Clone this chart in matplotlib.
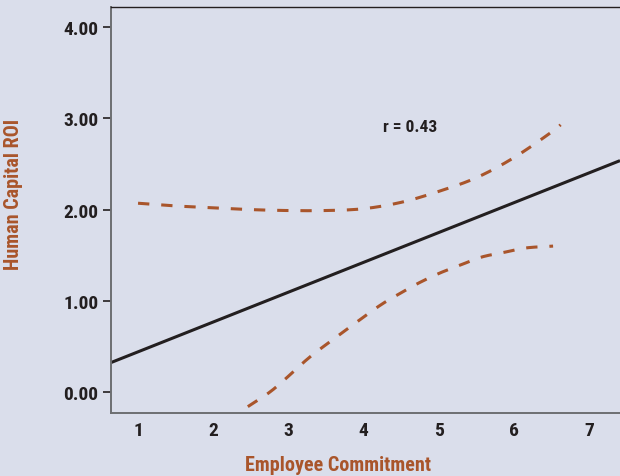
"""Human capital ROI vs employee commitment, with fit line and confidence band."""

import matplotlib

matplotlib.use("Agg")

import matplotlib.pyplot as plt
import numpy as np

# regression line: roi = intercept + slope * commitment
fit_intercept = 0.114
fit_slope = 0.327
r_value = 0.43

# upper and lower confidence bounds along the commitment scale
upper_x = [1.0, 1.5, 2.0, 2.5, 3.0, 3.5, 4.0, 4.5, 5.0, 5.5, 6.0, 6.5, 6.62]
upper_y = [2.07, 2.04, 2.02, 2.00, 1.99, 1.99, 2.01, 2.08, 2.20, 2.35, 2.57, 2.85, 2.93]
lower_x = [2.46, 2.8, 3.25, 3.5, 3.78, 4.2, 4.46, 4.72, 5.0, 5.28, 5.57, 5.86, 6.16, 6.52]
lower_y = [-0.16, 0.03, 0.36, 0.52, 0.69, 0.94, 1.07, 1.19, 1.30, 1.39, 1.48, 1.53, 1.58, 1.60]

x_ticks = [1, 2, 3, 4, 5, 6, 7]
y_ticks = [0.0, 1.0, 2.0, 3.0, 4.0]

BG = "#dadeeb"
RUST = "#a9552b"
INK = "#231f20"
SPINE = "#6d6e71"


def smooth(xs, ys, steps=12):
    """Catmull-Rom curve through the given points, for drawing only."""
    p = np.column_stack([xs, ys]).astype(float)
    p = np.vstack([2 * p[0] - p[1], p, 2 * p[-1] - p[-2]])
    t = np.linspace(0, 1, steps, endpoint=False)[:, None]
    out = []
    for i in range(1, len(p) - 2):
        p0, p1, p2, p3 = p[i - 1], p[i], p[i + 1], p[i + 2]
        out.append(0.5 * (2 * p1 + (-p0 + p2) * t + (2 * p0 - 5 * p1 + 4 * p2 - p3) * t ** 2
                          + (-p0 + 3 * p1 - 3 * p2 + p3) * t ** 3))
    out.append(p[-2][None, :])
    seg = np.vstack(out)
    return seg[:, 0], seg[:, 1]


plt.rcParams["font.family"] = ["Roboto Condensed", "DejaVu Sans"]
plt.rcParams["font.weight"] = "bold"

fig = plt.figure(figsize=(6.2, 4.77), dpi=100, facecolor=BG)
ax = fig.add_axes([0.179, 0.132, 0.821, 0.851], facecolor=BG)

xs = np.linspace(0.64, 7.41, 50)
ax.plot(xs, fit_intercept + fit_slope * xs, color=INK, lw=2.2, solid_capstyle="butt")

dash = dict(color=RUST, lw=2.2, dashes=(3.7, 3.9), dash_capstyle="butt")
ax.plot(*smooth(upper_x, upper_y), **dash)
ax.plot(*smooth(lower_x, lower_y), **dash)

ax.text(4.62, 2.91, f"r = {r_value:.2f}", fontsize=12.5, fontweight="bold",
        color=INK, ha="center", va="center")

ax.set_xlim(0.64, 7.41)
ax.set_ylim(-0.23, 4.22)
ax.set_xticks(x_ticks)
ax.set_yticks(y_ticks)
ax.set_yticklabels([f"{v:.2f}" for v in y_ticks])
ax.tick_params(axis="x", length=0, pad=6, labelsize=14, labelcolor=INK)
ax.tick_params(axis="y", length=6, width=1.2, color=INK, pad=3, labelsize=14, labelcolor=INK)

for side in ("left", "bottom"):
    ax.spines[side].set_color(SPINE)
    ax.spines[side].set_linewidth(1.4)
ax.spines["top"].set_color(INK)
ax.spines["top"].set_linewidth(1.0)
ax.spines["right"].set_visible(False)

ax.set_xlabel("Employee Commitment", fontsize=14.5, fontweight="bold", color=RUST)
ax.set_ylabel("Human Capital ROI", fontsize=14.5, fontweight="bold", color=RUST)
ax.xaxis.set_label_coords(0.446, -0.103)
ax.yaxis.set_label_coords(-0.173, 0.54)

fig.savefig("out.png", dpi=100, facecolor=BG)
